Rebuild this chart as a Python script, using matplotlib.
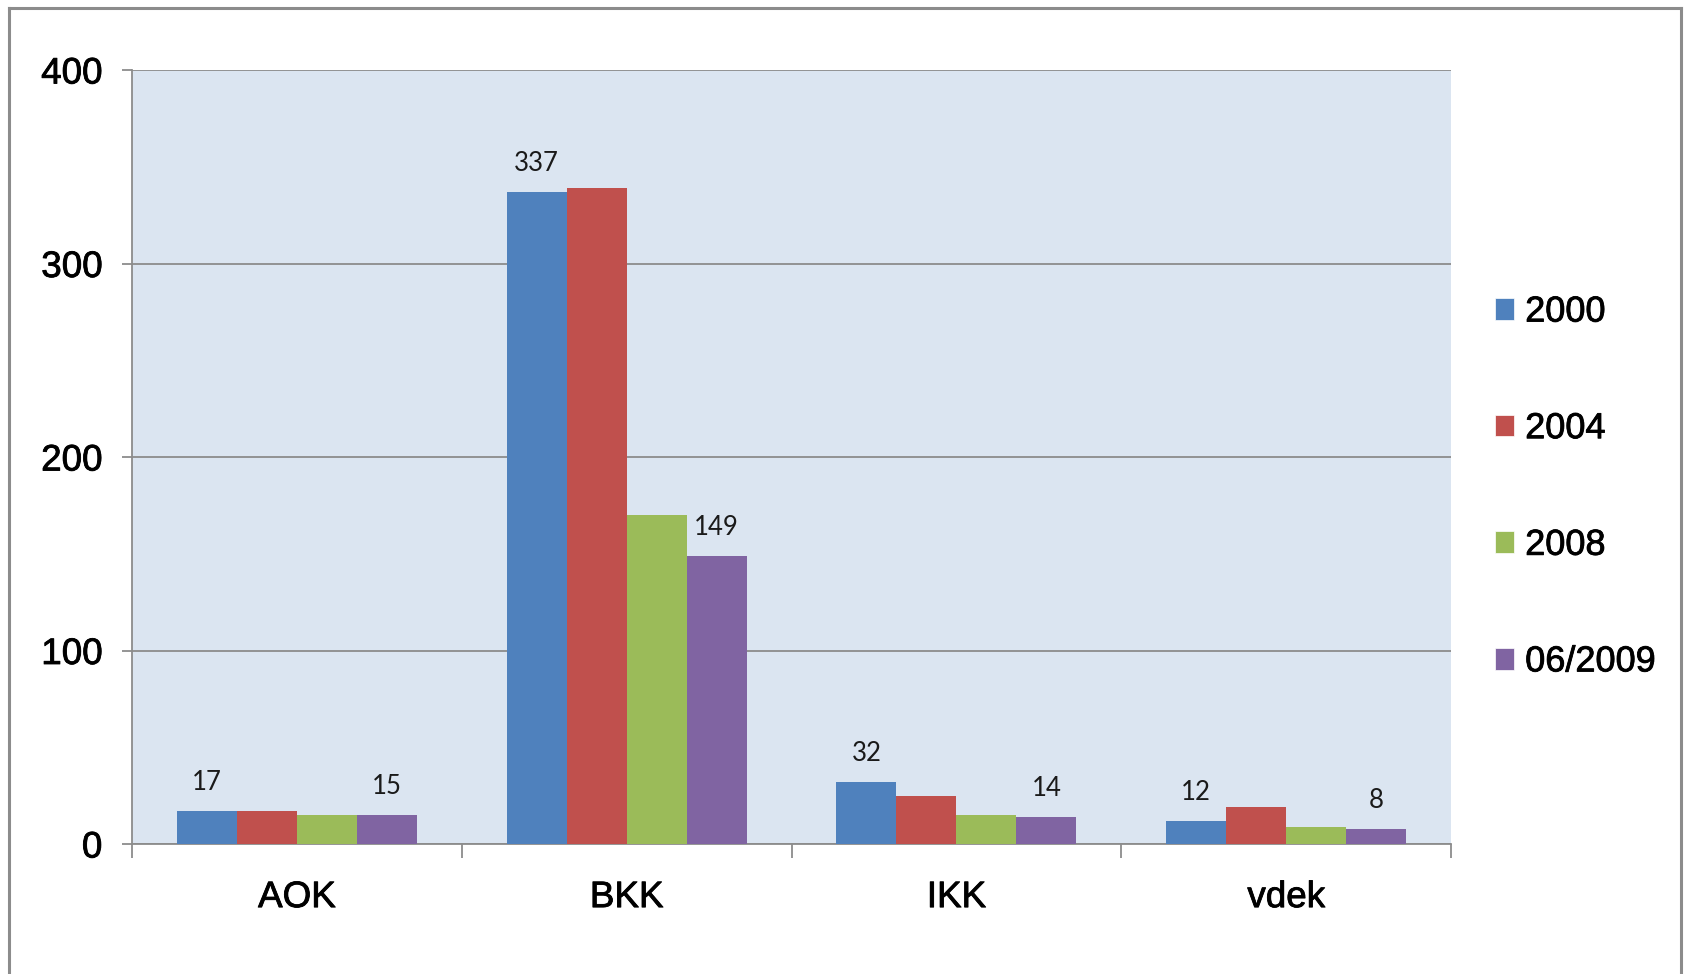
import matplotlib.patheffects as pe
import matplotlib.pyplot as plt
import numpy as np
from matplotlib.lines import Line2D
from matplotlib.patches import Patch

# Data
categories = ["AOK", "BKK", "IKK", "vdek"]
series_names = ["2000", "2004", "2008", "06/2009"]
values_2000 = [17, 337, 32, 12]
values_2004 = [17, 339, 25, 19]
values_2008 = [15, 170, 15, 9]
values_2009 = [15, 149, 14, 8]
colors = ["#4F81BD", "#C0504D", "#9BBB59", "#8064A2"]
labelled = [True, False, False, True]

heavy = [pe.withStroke(linewidth=0.6, foreground="black")]

fig = plt.figure(figsize=(16.84, 9.74), dpi=100)
ax = fig.add_axes([132 / 1684, 1 - 844 / 974, (1451 - 132) / 1684, (844 - 70) / 974])
ax.set_facecolor("#DBE5F1")

x = np.arange(len(categories))
width = 0.182
all_values = [values_2000, values_2004, values_2008, values_2009]
for i, (vals, name, col) in enumerate(zip(all_values, series_names, colors)):
    bars = ax.bar(x + (i - 1.5) * width, vals, width, color=col, label=name,
                  zorder=3)
    if labelled[i]:
        ax.bar_label(bars, padding=11.5, fontsize=18.5, family="Lato",
                     color="#1a1a1a")

ax.set_xlim(-0.5, 3.5)
ax.set_ylim(0, 400)
ax.set_yticks([0, 100, 200, 300, 400])
ax.yaxis.grid(True, color="#8C8C8C", linewidth=1.3, zorder=1)

# category ticks between groups
ax.set_xticks(np.arange(-0.5, 4.0, 1.0))
ax.set_xticklabels([])
ax.set_xticks(x, minor=True)
ax.set_xticklabels(categories, minor=True)
ax.tick_params(axis="x", which="minor", length=0, pad=26, labelsize=26.5)
ax.tick_params(axis="x", which="major", length=10, width=1.3, color="#8C8C8C")
ax.tick_params(axis="y", length=7, width=1.3, color="#8C8C8C", pad=14.5,
               labelsize=26.5)
for lab in ax.get_xticklabels(minor=True) + ax.get_yticklabels():
    lab.set_family("Liberation Sans")
    lab.set_path_effects(heavy)

for side in ["top", "right"]:
    ax.spines[side].set_visible(False)
for side in ["left", "bottom"]:
    ax.spines[side].set_color("#8C8C8C")
    ax.spines[side].set_linewidth(1.3)

handles = [Patch(facecolor=c, edgecolor="white", linewidth=0.5) for c in colors]
leg = fig.legend(handles, series_names, loc="center left",
                 bbox_to_anchor=(1462 / 1684, 1 - 487 / 974), frameon=False,
                 prop={"family": "Liberation Sans", "size": 26},
                 handlelength=0.55, handleheight=0.55, handletextpad=0.3,
                 labelspacing=2.26)
for t in leg.get_texts():
    t.set_path_effects(heavy)

# outer chart border
border = dict(color="#8C8C8C", linewidth=2.2)
fig.add_artist(Line2D([9 / 1684, 9 / 1684], [0, 1 - 8 / 974], **border))
fig.add_artist(Line2D([9 / 1684, 1681 / 1684], [1 - 8 / 974, 1 - 8 / 974], **border))
fig.add_artist(Line2D([1681 / 1684, 1681 / 1684], [0, 1 - 8 / 974], **border))

plt.savefig("out.png", dpi=100)
